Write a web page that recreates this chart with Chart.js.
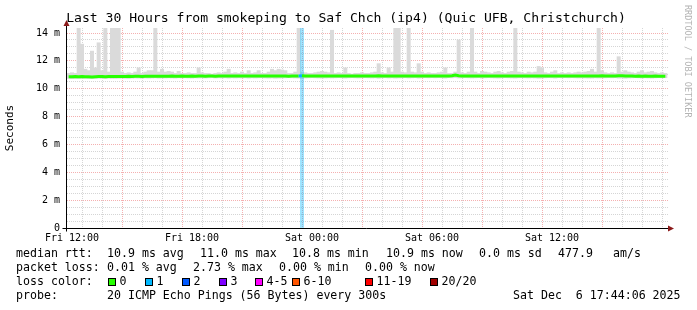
<!DOCTYPE html>
<html>
<head>
<meta charset="utf-8">
<script src="https://cdn.jsdelivr.net/npm/chart.js@4/dist/chart.umd.min.js"></script>
<style>
  html, body { margin: 0; padding: 0; background: #fff; }
  canvas { display: block; }
</style>
</head>
<body>
<canvas id="myChart" width="697" height="310"></canvas>
<script>
// 10 minute steps, hours counted from Fri 00:00
const startHour = 11.75;
const stepHours = 1 / 6;

// median rtt in ms
const medianRtt = [
  10.86,10.86,10.87,10.86,10.87,10.86,10.86,10.85,10.86,10.87,
  10.87,10.86,10.87,10.88,10.87,10.87,10.88,10.88,10.89,10.88,
  10.89,10.89,10.88,10.89,10.90,10.89,10.90,10.90,10.89,10.90,
  10.90,10.91,10.90,10.90,10.91,10.90,10.90,10.91,10.90,10.91,
  10.91,10.90,10.91,10.91,10.90,10.91,10.92,10.91,10.91,10.92,
  10.91,10.91,10.92,10.91,10.92,10.91,10.91,10.92,10.91,10.91,
  10.92,10.91,10.91,10.92,10.91,10.91,10.90,10.91,10.91,10.92,
  10.93,10.92,10.91,10.91,10.92,10.91,10.91,10.92,10.91,10.91,
  10.92,10.91,10.91,10.92,10.91,10.91,10.92,10.91,10.91,10.92,
  10.91,10.91,10.92,10.93,10.92,10.91,10.92,10.92,10.91,10.92,
  10.92,10.91,10.92,10.91,10.91,10.92,10.91,10.91,10.92,10.91,
  10.91,10.92,10.91,10.92,10.91,10.93,10.98,10.93,10.92,10.91,
  10.92,10.91,10.91,10.92,10.91,10.92,10.91,10.91,10.92,10.91,
  10.91,10.92,10.91,10.91,10.92,10.91,10.91,10.92,10.91,10.91,
  10.92,10.91,10.92,10.91,10.91,10.92,10.91,10.91,10.92,10.91,
  10.91,10.92,10.91,10.92,10.91,10.91,10.92,10.91,10.91,10.92,
  10.93,10.92,10.91,10.91,10.92,10.94,10.93,10.92,10.91,10.91,
  10.90,10.91,10.90,10.91,10.90,10.90,10.91,10.90,10.90,10.90
];

// smoke (spread of the 20 pings) low and high edge, ms
const smokeLow = [
  10.74,10.72,10.74,10.73,10.75,10.74,10.72,10.73,10.74,10.75,
  10.74,10.73,10.75,10.74,10.74,10.75,10.76,10.75,10.74,10.76,
  10.77,10.76,10.75,10.77,10.76,10.77,10.78,10.76,10.77,10.77,
  10.78,10.77,10.76,10.78,10.77,10.78,10.77,10.76,10.78,10.77,
  10.78,10.77,10.78,10.79,10.77,10.78,10.77,10.78,10.76,10.78,
  10.77,10.78,10.77,10.78,10.76,10.78,10.77,10.78,10.79,10.77,
  10.76,10.77,10.75,10.76,10.77,10.78,10.79,10.78,10.77,10.76,
  10.74,10.77,10.78,10.79,10.78,10.77,10.76,10.77,10.78,10.77,
  10.78,10.79,10.78,10.76,10.78,10.79,10.78,10.77,10.78,10.79,
  10.78,10.77,10.78,10.75,10.78,10.79,10.77,10.78,10.76,10.77,
  10.78,10.79,10.77,10.78,10.79,10.76,10.78,10.79,10.78,10.79,
  10.78,10.79,10.78,10.76,10.79,10.78,10.80,10.77,10.78,10.79,
  10.78,10.77,10.78,10.79,10.76,10.78,10.79,10.78,10.77,10.76,
  10.78,10.79,10.78,10.77,10.76,10.78,10.79,10.78,10.77,10.78,
  10.77,10.75,10.76,10.78,10.79,10.78,10.76,10.79,10.78,10.79,
  10.78,10.79,10.78,10.77,10.78,10.77,10.76,10.76,10.78,10.77,
  10.77,10.78,10.79,10.78,10.79,10.76,10.77,10.75,10.77,10.78,
  10.79,10.78,10.76,10.78,10.77,10.76,10.78,10.79,10.78,10.79
];
const smokeHigh = [
  11.10,11.15,11.10,14.40,13.20,11.40,11.30,12.70,11.50,13.30,
  11.30,14.40,11.20,14.40,14.40,14.40,11.20,11.10,11.15,11.10,
  11.20,11.50,11.10,11.20,11.30,11.30,14.40,11.20,11.40,11.20,
  11.25,11.20,11.10,11.25,11.10,11.10,11.15,11.10,11.10,11.50,
  11.15,11.10,11.10,11.05,11.10,11.15,11.10,11.20,11.40,11.10,
  11.15,11.10,11.20,11.10,11.30,11.10,11.15,11.30,11.10,11.10,
  11.20,11.40,11.30,11.40,11.35,11.30,11.10,11.10,11.20,14.40,
  11.20,11.15,11.10,11.10,11.15,11.20,11.25,11.20,11.15,14.20,
  11.10,11.15,11.10,11.50,11.10,11.05,11.10,11.10,11.15,11.10,
  11.10,11.15,11.20,11.80,11.15,11.10,11.50,11.20,14.40,14.40,
  11.20,11.15,14.40,11.20,11.15,11.80,11.20,11.10,11.15,11.10,
  11.10,11.15,11.20,11.50,11.10,11.10,11.20,13.50,11.15,11.10,
  11.20,14.40,11.20,11.10,11.25,11.20,11.15,11.10,11.20,11.25,
  11.15,11.10,11.20,11.25,14.40,11.20,11.15,11.10,11.20,11.15,
  11.20,11.60,11.50,11.15,11.10,11.20,11.30,11.10,11.15,11.10,
  11.15,11.10,11.15,11.20,11.15,11.20,11.25,11.40,11.20,14.40,
  11.30,11.15,11.10,11.15,11.10,12.30,11.20,11.30,11.20,11.15,
  11.10,11.20,11.30,11.15,11.20,11.25,11.15,11.10,11.15,11.10
];

// steps that lost pings, and how many of the 20
const lossStep = [70];
const lossPings = [1];

// axis ticks
const xTickHours = [12, 18, 24, 30, 36];
const xTickLabels = ['Fri 12:00', 'Fri 18:00', 'Sat 00:00', 'Sat 06:00', 'Sat 12:00'];
const yMax = 14.36;

const lossLegend = ['0', '1', '2', '3', '4-5', '6-10', '11-19', '20/20'];
const lossColors = ['#26ff00', '#00b8ff', '#0059ff', '#7e00ff', '#ff00ff', '#ff5500', '#ff0000', '#a10000'];

function lossColorIndex(n) {
  if (n <= 3) return n;
  if (n <= 5) return 4;
  if (n <= 10) return 5;
  if (n <= 19) return 6;
  return 7;
}

const hours = medianRtt.map((v, i) => startHour + (i + 0.5) * stepHours);

function pingsLostAt(i) {
  const k = lossStep.indexOf(i);
  return k >= 0 ? lossPings[k] : 0;
}

// grid positions: every hour on x, every 0.5 ms on y
const xGrid = [];
for (let h = 12; h <= 41; h++) xGrid.push(h);
const yGrid = [];
for (let v = 0; v <= 14; v += 0.5) yGrid.push(v);

const majorGrid = 'rgba(230, 80, 80, 0.45)';
const minorGrid = 'rgba(150, 150, 150, 0.4)';
const mono = '"DejaVu Sans Mono", monospace';

Chart.defaults.font.family = mono;

const rrdDecor = {
  id: 'rrdDecor',
  beforeDraw(chart) {
    const ctx = chart.ctx;
    ctx.save();
    ctx.fillStyle = '#ffffff';
    ctx.fillRect(0, 0, chart.width, chart.height);
    ctx.restore();
  },
  afterDraw(chart) {
    const ctx = chart.ctx;
    const area = chart.chartArea;
    const ax = Math.floor(area.left) - 0.5;
    const ay = Math.floor(area.bottom) + 0.5;
    ctx.save();

    // axes
    ctx.strokeStyle = '#000';
    ctx.lineWidth = 1;
    ctx.beginPath();
    ctx.moveTo(ax, area.top - 5);
    ctx.lineTo(ax, ay + 3);
    ctx.moveTo(ax - 4, ay);
    ctx.lineTo(area.right + 2, ay);
    ctx.stroke();

    ctx.fillStyle = '#8b1a1a';
    ctx.beginPath();
    ctx.moveTo(ax, area.top - 8);
    ctx.lineTo(ax - 3, area.top - 2);
    ctx.lineTo(ax + 3, area.top - 2);
    ctx.closePath();
    ctx.fill();
    ctx.beginPath();
    ctx.moveTo(area.right + 6, ay);
    ctx.lineTo(area.right, ay - 3);
    ctx.lineTo(area.right, ay + 3);
    ctx.closePath();
    ctx.fill();

    // title
    ctx.fillStyle = '#000';
    ctx.font = '13.1px ' + mono;
    ctx.textAlign = 'center';
    ctx.textBaseline = 'middle';
    ctx.fillText('Last 30 Hours from smokeping to Saf Chch (ip4) (Quic UFB, Christchurch)', 346, 19);

    // watermark
    ctx.save();
    ctx.translate(687, 5);
    ctx.rotate(Math.PI / 2);
    ctx.font = '8.5px ' + mono;
    ctx.fillStyle = '#b4b4b4';
    ctx.textAlign = 'left';
    ctx.textBaseline = 'middle';
    ctx.fillText('RRDTOOL / TOBI OETIKER', 0, 0);
    ctx.restore();

    // legend
    ctx.font = '11.6px ' + mono;
    ctx.textAlign = 'left';
    ctx.textBaseline = 'middle';
    ctx.fillStyle = '#000';
    const rows = [
      [254, [[16, 'median rtt:'], [107, '10.9 ms avg'], [200, '11.0 ms max'], [292, '10.8 ms min'],
             [386, '10.9 ms now'], [479, '0.0 ms sd'], [558, '477.9'], [613, 'am/s']]],
      [268, [[16, 'packet loss:'], [107, '0.01 % avg'], [193, '2.73 % max'], [279, '0.00 % min'], [365, '0.00 % now']]],
      [282, [[16, 'loss color:']]],
      [296, [[16, 'probe:'], [107, '20 ICMP Echo Pings (56 Bytes) every 300s'], [513, 'Sat Dec  6 17:44:06 2025']]]
    ];
    rows.forEach(([y, items]) => items.forEach(([x, t]) => ctx.fillText(t, x, y)));

    const boxX = [108.5, 145.5, 182.5, 219.5, 255.5, 292.5, 365.5, 430.5];
    lossLegend.forEach((label, i) => {
      ctx.fillStyle = lossColors[i];
      ctx.fillRect(boxX[i], 278.5, 7, 7);
      ctx.strokeStyle = '#000';
      ctx.strokeRect(boxX[i], 278.5, 7, 7);
      ctx.fillStyle = '#000';
      ctx.fillText(label, boxX[i] + 11, 282);
    });

    ctx.restore();
  }
};

const ctx = document.getElementById('myChart').getContext('2d');

const myChart = new Chart(ctx, {
  type: 'bar',
  data: {
    datasets: [
      {
        type: 'line',
        label: 'median rtt',
        data: hours.map((h, i) => ({ x: h, y: medianRtt[i] })),
        borderColor: lossColors[0],
        borderWidth: 3,
        pointRadius: 0,
        tension: 0,
        segment: {
          borderColor: c => lossColors[lossColorIndex(pingsLostAt(c.p1DataIndex))]
        },
        order: 1
      },
      {
        type: 'bar',
        label: 'loss',
        data: lossStep.map(i => ({ x: hours[i], y: [0, yMax] })),
        backgroundColor: 'rgba(0, 184, 255, 0.38)',
        borderWidth: 0,
        grouped: false,
        barPercentage: 1,
        categoryPercentage: 1,
        order: 2
      },
      {
        type: 'bar',
        label: 'smoke',
        data: hours.map((h, i) => ({ x: h, y: [smokeLow[i], smokeHigh[i]] })),
        backgroundColor: '#dadada',
        borderWidth: 0,
        grouped: false,
        barPercentage: 1,
        categoryPercentage: 1,
        order: 3
      }
    ]
  },
  options: {
    responsive: false,
    animation: false,
    devicePixelRatio: 1,
    layout: { padding: { left: 0, top: 28, right: 29, bottom: 0 } },
    plugins: {
      legend: { display: false },
      title: { display: false },
      tooltip: { enabled: false }
    },
    scales: {
      x: {
        type: 'linear',
        min: 11.75,
        max: 41.8,
        offset: false,
        afterBuildTicks: s => { s.ticks = xGrid.map(v => ({ value: v })); },
        afterFit: s => { s.height = 82; },
        ticks: {
          autoSkip: false,
          maxRotation: 0,
          padding: 4,
          color: '#000',
          font: { size: 10 },
          callback: v => {
            const k = xTickHours.indexOf(v);
            return k >= 0 ? xTickLabels[k] : '';
          }
        },
        grid: {
          drawTicks: false,
          color: c => (c.tick && c.tick.value % 3 === 0) ? majorGrid : minorGrid
        },
        border: { display: false, dash: [1, 1] }
      },
      y: {
        min: 0,
        max: yMax,
        afterBuildTicks: s => { s.ticks = yGrid.map(v => ({ value: v })); },
        afterFit: s => { s.width = 67; },
        ticks: {
          autoSkip: false,
          padding: 7,
          color: '#000',
          font: { size: 10 },
          callback: v => v % 2 === 0 ? (v === 0 ? '0' : v + ' m') : ''
        },
        grid: {
          drawTicks: false,
          color: c => (c.tick && c.tick.value % 2 === 0) ? majorGrid : minorGrid
        },
        border: { display: false, dash: [1, 1] },
        title: {
          display: true,
          text: 'Seconds',
          color: '#000',
          font: { size: 11 },
          padding: { top: 4, bottom: 0 }
        }
      }
    }
  },
  plugins: [rrdDecor]
});
</script>
</body>
</html>
